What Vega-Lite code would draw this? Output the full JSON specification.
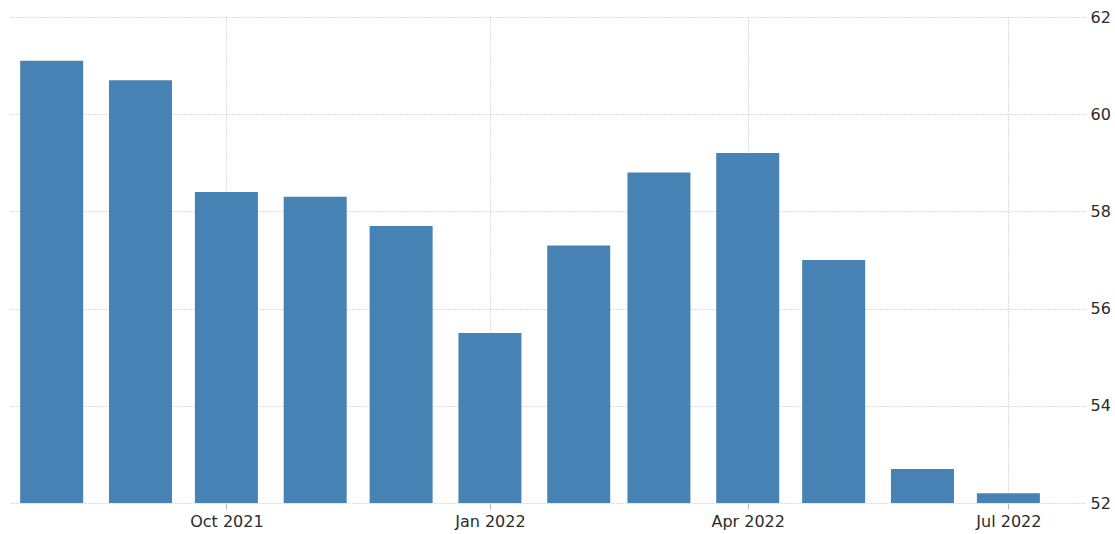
{
  "$schema": "https://vega.github.io/schema/vega-lite/v6.json",
  "width": 1077,
  "height": 486,
  "autosize": {"type": "none"},
  "padding": {"left": 8, "top": 17, "right": 30, "bottom": 31},
  "background": "white",
  "config": {
    "view": {"stroke": null},
    "font": "DejaVu Sans"
  },
  "data": {
    "values": [
      {"month": "2021-08-01", "value": 61.1},
      {"month": "2021-09-01", "value": 60.7},
      {"month": "2021-10-01", "value": 58.4},
      {"month": "2021-11-01", "value": 58.3},
      {"month": "2021-12-01", "value": 57.7},
      {"month": "2022-01-01", "value": 55.5},
      {"month": "2022-02-01", "value": 57.3},
      {"month": "2022-03-01", "value": 58.8},
      {"month": "2022-04-01", "value": 59.2},
      {"month": "2022-05-01", "value": 57.0},
      {"month": "2022-06-01", "value": 52.7},
      {"month": "2022-07-01", "value": 52.2}
    ]
  },
  "mark": {"type": "bar", "color": "#4682b4", "size": 63, "clip": true},
  "encoding": {
    "x": {
      "field": "month",
      "type": "temporal",
      "scale": {"domain": ["2021-07-18T12:00:00", "2022-07-26T00:00:00"]},
      "axis": {
        "title": null,
        "values": ["2021-10-01", "2022-01-01", "2022-04-01", "2022-07-01"],
        "format": "%b %Y",
        "domain": false,
        "grid": true,
        "gridColor": "#b8b8b8",
        "gridDash": [1, 2],
        "gridWidth": 1,
        "ticks": true,
        "tickColor": "#b8b8b8",
        "tickSize": 6,
        "labelFontSize": 16,
        "labelColor": "#2b2b2b",
        "labelPadding": 4,
        "labelFont": "DejaVu Sans"
      }
    },
    "y": {
      "field": "value",
      "type": "quantitative",
      "scale": {"domain": [52, 62], "zero": false, "nice": false},
      "axis": {
        "title": null,
        "orient": "right",
        "values": [52, 54, 56, 58, 60, 62],
        "domain": false,
        "ticks": false,
        "grid": true,
        "gridColor": "#b8b8b8",
        "gridDash": [1, 2],
        "gridWidth": 1,
        "labelFontSize": 16,
        "labelColor": "#2b2b2b",
        "labelPadding": 5,
        "labelFont": "DejaVu Sans"
      }
    }
  }
}
